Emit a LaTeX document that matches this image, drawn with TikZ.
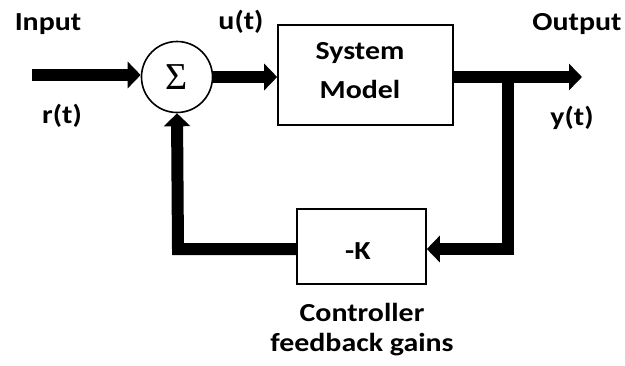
\documentclass[tikz,border=0pt]{standalone}
\usepackage{fontspec}
\setmainfont{Carlito}[FakeStretch=1.15]
\newfontfamily\sigfont{Liberation Serif}
\usetikzlibrary{arrows.meta}
\begin{document}
\begin{tikzpicture}[x=1pt,y=1pt,
  lbl/.style={font=\bfseries\fontsize{26}{30}\selectfont, inner sep=0pt},
  blk/.style={draw, line width=1.6pt, fill=white, inner sep=0pt},
  sig/.style={line width=12pt, line join=miter},
  tip/.style={-{Triangle[length=13pt,width=26pt]}}]
\useasboundingbox (0,0) rectangle (625,-365);
% blocks
\node[blk, circle, minimum size=71pt] (sum) at (177,-77) {\sigfont\fontsize{38}{38}\selectfont Σ};
\node[blk, minimum width=175pt, minimum height=100pt] (sys) at (365.5,-75) {};
\node[blk, minimum width=129pt, minimum height=75pt] (K) at (361.5,-246.5) {};
% texts
\node[lbl] (tsys1) at (360,-53) {System};
\node[lbl] (tsys2) at (360,-89) {Model};
\node[lbl] (tk) at (358,-251) {-K};
\node[lbl] (tin) at (48,-24) {Input};
\node[lbl] (tr) at (62,-116) {r(t)};
\node[lbl] (tu) at (241,-22) {u(t)};
\node[lbl] (tout) at (577,-24) {Output};
\node[lbl] (ty) at (572,-118) {y(t)};
\node[lbl] (tc1) at (362,-312) {Controller};
\node[lbl] (tc2) at (362,-345) {feedback gains};
% coordinates
\coordinate (in) at (32,-75);
\coordinate (out) at (582,-77);
\coordinate (br) at (508,-77);
\coordinate (brd) at (508,-249);
\coordinate (bl) at (178,-249);
% connectors
\draw[sig, tip] (in) -- (sum.west |- in);
\draw[sig, tip] (sum.east) -- (sys.west |- sum.east);
\draw[sig, tip] (sys.east |- out) -- (out);
\draw[sig, tip] (br) -- (brd) -- (K.east |- brd);
\draw[sig, tip] (K.west |- bl) -- (bl) -- (sum.south);
\end{tikzpicture}
\end{document}
